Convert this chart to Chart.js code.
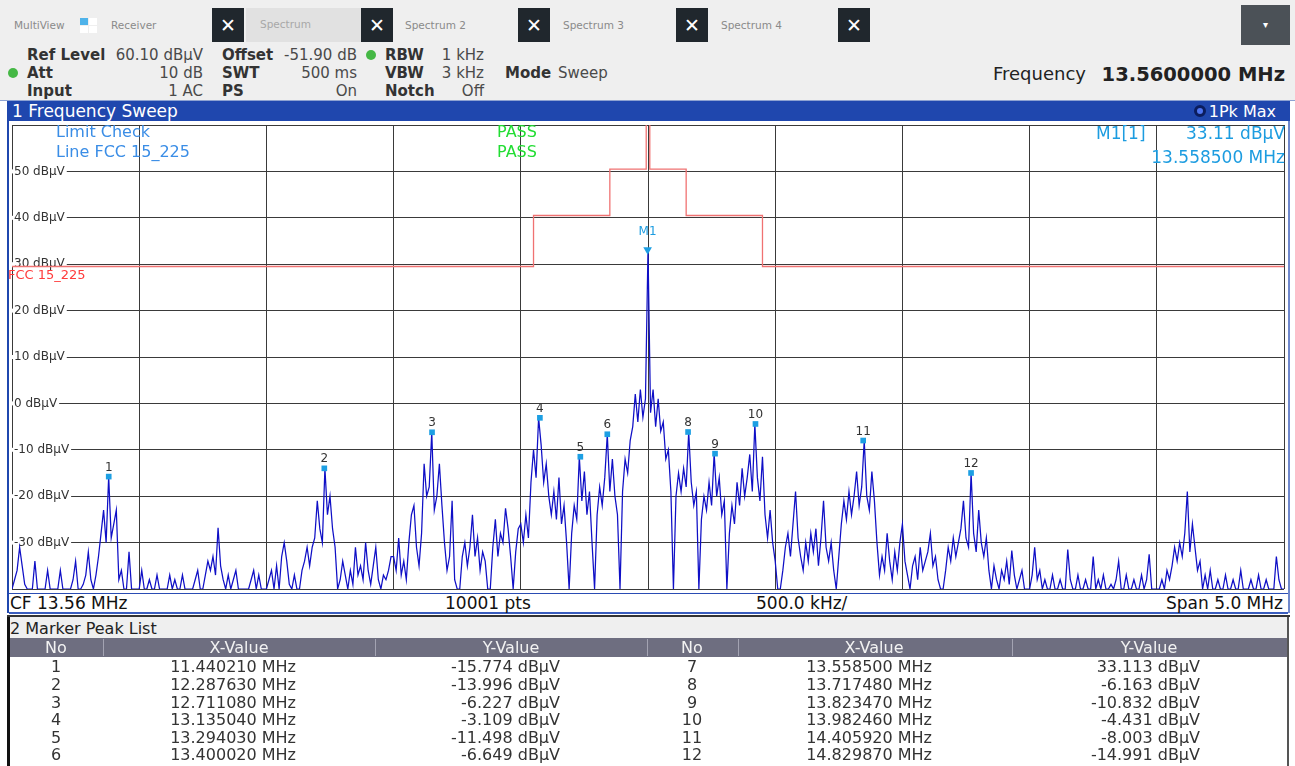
<!DOCTYPE html>
<html lang="en">
<head>
<meta charset="utf-8">
<title>1 Frequency Sweep</title>
<script src="https://cdn.jsdelivr.net/npm/chart.js@4.4.1/dist/chart.umd.min.js"></script>
<style>
  html, body { margin: 0; padding: 0; }
  body { width: 1295px; height: 766px; overflow: hidden; position: relative; background: #fff;
         font-family: "DejaVu Sans", sans-serif; color: #222; }
  .box { position: absolute; }
  .t { position: absolute; white-space: nowrap; }
  #plot { position: absolute; left: 8px; top: 121px; width: 1280px; height: 472px; }
</style>
</head>
<body>
<div id="plot"><canvas id="sweep"></canvas></div>
<script>
// sweep: 11.06 .. 16.06 MHz, one level per 10 kHz (dBuV)
const sweepStartMHz = 11.06;
const sweepStepMHz = 0.01;
const traceLevels = [
  -40,-38,-36,-31,-35,-39,-40,-40,-40,-34,-40,-40,-40,-40,-36,-40,-40,-40,-40,-36,-40,-40,-40,-40,-38,
  -34,-40,-40,-39,-37,-32,-38,-40,-37,-33,-28,-23,-30,-15.774,-29,-26,-23,-38,-36,-40,-40,-32,-40,-40,-40,
  -40,-36,-40,-40,-38,-40,-40,-37,-40,-40,-40,-40,-37,-40,-38,-40,-40,-37,-40,-40,-40,-40,-38,-36,-40,
  -40,-37,-34,-36,-33,-37,-26.8,-35,-38,-40,-37,-40,-38,-36,-40,-40,-40,-40,-40,-38,-36,-40,-37,-40,-40,
  -40,-38,-36,-40,-35,-40,-33,-30,-34,-39,-40,-37,-40,-40,-36,-34,-31,-35,-31,-29,-21,-27,-30,-13.996,-24,
  -20,-27,-31,-40,-38,-34,-37,-40,-36,-39,-31,-37,-35,-38,-30,-36,-39,-35,-31,-38,-40,-37,-38,-36,-33,
  -33,-36,-29,-37,-34,-38,-30,-24,-22,-31,-35,-28,-13,-20,-18,-6.227,-23,-20,-13,-22,-30,-36,-33,-21,-38,
  -40,-40,-33,-30,-35,-31,-24,-33,-29,-36,-32,-34,-40,-40,-31,-25,-33,-28,-30,-22.6,-27,-33,-40,-32,-27,
  -26,-30,-24,-29,-17,-10,-16,-3.109,-9,-17,-13,-20,-24,-19,-25,-16,-26,-22,-30,-40,-28,-22,-25,-11.498,-21,
  -14.7,-24,-19,-30,-40,-24,-18,-22,-16,-6.649,-19,-12,-20,-24,-40,-19,-12,-15,-8,-5,2,-4,3,-3,1,
  33.113,-2,3,-5,1,-6,-4,-12,-10,-19,-40,-20,-15,-19,-14,-18,-6.163,-17,-22,-19,-40,-25,-20,-23,-17,
  -22,-10.832,-20,-16,-24,-21,-40,-28,-22,-26,-17,-22,-14,-20,-16,-11,-19,-4.431,-16,-21,-11.5,-24,-29,-23,-30,
  -34,-40,-40,-36,-31,-28,-33,-26,-19,-29,-33,-36,-30,-34,-28,-32,-27,-35,-29,-21,-31,-34,-30,-36,-40,
  -33,-26,-21,-25,-19,-24,-20,-14.7,-22,-18,-8.003,-20,-23,-14.7,-21,-30,-37,-33,-36,-28,-34,-38,-32,-36,-30,
  -26,-34,-37,-40,-35,-33,-38,-31,-36,-34,-32,-28,-35,-33,-38,-40,-40,-36,-31,-34,-29,-33,-30,-27,-21,
  -29,-31,-14.991,-28,-32,-23,-30,-33,-29,-36,-40,-35,-38,-40,-36,-38,-34,-39,-31.7,-37,-40,-38,-36,-40,-40,
  -40,-37,-31,-38,-36,-40,-38,-40,-40,-37,-40,-40,-38,-40,-40,-31.5,-38,-40,-40,-37,-40,-40,-38,-40,-40,
  -33,-40,-38,-40,-37,-40,-40,-39,-40,-38,-34,-40,-40,-37,-40,-40,-38,-40,-40,-37,-40,-38,-32.5,-40,-40,
  -40,-40,-38,-40,-36,-38,-35,-31,-34,-30,-33,-28,-19,-32,-26,-31,-36,-34,-40,-37,-40,-36,-40,-40,-38,
  -40,-40,-37,-40,-40,-38,-40,-40,-36,-40,-40,-40,-38,-40,-40,-37,-40,-40,-38,-40,-40,-40,-33,-38,-40,
  -40
];
const gridFreqs = [11.06, 11.56, 12.06, 12.56, 13.06, 13.56, 14.06, 14.56, 15.06, 15.56, 16.06];
const levelTicks = [50, 40, 30, 20, 10, 0, -10, -20, -30];

// FCC 15.225 limit line (level holds from each frequency to the next)
const limitFreqs = [11.06, 13.110, 13.410, 13.553, 13.567, 13.710, 14.010, 16.06];
const limitLevels = [29.5, 40.5, 50.5, 84.0, 50.5, 40.5, 29.5, 29.5];

// marker peak list
const markerNo = [1, 2, 3, 4, 5, 6, 7, 8, 9, 10, 11, 12];
const markerFreq = [11.440210, 12.287630, 12.711080, 13.135040, 13.294030, 13.400020,
                    13.558500, 13.717480, 13.823470, 13.982460, 14.405920, 14.829870];
const markerLevel = [-15.774, -13.996, -6.227, -3.109, -11.498, -6.649,
                     33.113, -6.163, -10.832, -4.431, -8.003, -14.991];

function put(text, x, yc, size, color, align, weight) {
  const d = document.createElement('div');
  const lh = Math.round(size * 1.2);
  d.className = 't';
  d.textContent = text;
  d.style.fontSize = size + 'px';
  d.style.lineHeight = lh + 'px';
  d.style.top = (yc - lh / 2) + 'px';
  d.style.color = color || '#222';
  if (weight) d.style.fontWeight = weight;
  if (align === 'right') d.style.right = (1295 - x) + 'px';
  else if (align === 'center') { d.style.left = (x - 200) + 'px'; d.style.width = '400px'; d.style.textAlign = 'center'; }
  else d.style.left = x + 'px';
  document.body.appendChild(d);
  return d;
}
function rect(x, y, w, h, bg, css) {
  const d = document.createElement('div');
  d.className = 'box';
  d.style.cssText = 'left:' + x + 'px;top:' + y + 'px;width:' + w + 'px;height:' + h + 'px;background:' + bg + ';' + (css || '');
  document.body.appendChild(d);
  return d;
}

// ---- top bar + settings ----
rect(0, 0, 1295, 100, '#efefef', 'border-bottom:1px solid #8da2d2;');
put('MultiView', 14, 25, 10.5, '#8a8a8a');
rect(80, 18, 8, 7, '#4fb3ea'); rect(89, 18, 8, 7, '#fff'); rect(80, 26, 8, 7, '#fff'); rect(89, 26, 8, 7, '#fff');
put('Receiver', 111, 25, 10.5, '#8a8a8a');
rect(246, 8, 115, 34, '#e1e1e1');
put('Spectrum', 260, 24, 10.5, '#a8a8a8');
put('Spectrum 2', 405, 25, 10.5, '#8a8a8a');
put('Spectrum 3', 563, 25, 10.5, '#8a8a8a');
put('Spectrum 4', 721, 25, 10.5, '#8a8a8a');
[212, 361, 518, 676, 838].forEach(x => {
  const b = rect(x, 8, 32, 34, '#20272d', 'color:#fff;font-size:19px;font-weight:bold;text-align:center;line-height:34px;');
  b.textContent = '\u2715';
});
const dd = rect(1241, 5, 49, 40, '#4b5157', 'color:#fff;font-size:10px;text-align:center;line-height:40px;');
dd.textContent = '\u25BE';

const lab = '#333', val = '#4a4a4a';
rect(366, 50, 10, 10, '#45b845', 'border-radius:50%;');
rect(8, 68, 10, 10, '#45b845', 'border-radius:50%;');
put('Ref Level', 27, 55, 15, lab, 'left', 'bold');  put('60.10 dB\u00B5V', 203, 55, 15, val, 'right');
put('Att', 27, 73, 15, lab, 'left', 'bold');        put('10 dB', 203, 73, 15, val, 'right');
put('Input', 27, 91, 15, lab, 'left', 'bold');      put('1 AC', 203, 91, 15, val, 'right');
put('Offset', 222, 55, 15, lab, 'left', 'bold');    put('-51.90 dB', 357, 55, 15, val, 'right');
put('SWT', 222, 73, 15, lab, 'left', 'bold');       put('500 ms', 357, 73, 15, val, 'right');
put('PS', 222, 91, 15, lab, 'left', 'bold');        put('On', 357, 91, 15, val, 'right');
put('RBW', 385, 55, 15, lab, 'left', 'bold');       put('1 kHz', 484, 55, 15, val, 'right');
put('VBW', 385, 73, 15, lab, 'left', 'bold');       put('3 kHz', 484, 73, 15, val, 'right');
put('Notch', 385, 91, 15, lab, 'left', 'bold');     put('Off', 484, 91, 15, val, 'right');
put('Mode', 505, 73, 15, lab, 'left', 'bold');      put('Sweep', 558, 73, 15, val);
put('Frequency', 993, 74, 18, '#222');
put('13.5600000 MHz', 1285, 74, 19.5, '#222', 'right', 'bold');

// ---- window frame ----
rect(7, 101, 1283, 20, '#1f47ae');
put('1 Frequency Sweep', 12, 111, 17, '#fff');
rect(1194, 105, 12, 12, '#4d74f0', 'border-radius:50%;box-sizing:border-box;border:3px solid #0b1d5e;');
put('1Pk Max', 1276, 111, 16, '#fff', 'right');
rect(7, 121, 2, 492, '#1f47ae');
rect(1288, 121, 2, 492, '#6f88cc');
rect(9, 593, 1279, 18, '#fff', 'border-top:1px solid #2a4cb3;border-bottom:2px solid #3a5dbe;');
put('CF 13.56 MHz', 10, 603, 17, '#111');
put('10001 pts', 445, 603, 17, '#111');
put('500.0 kHz/', 756, 603, 17, '#111');
put('Span 5.0 MHz', 1283, 603, 17, '#111', 'right');

// ---- texts inside the diagram ----
put('Limit Check', 56, 131, 16, '#3a8de6');
put('Line FCC 15_225', 56, 151, 16, '#3a8de6');
put('PASS', 497, 131, 16, '#22dd33');
put('PASS', 497, 151, 16, '#22dd33');
put('M1[1]', 1096, 133, 17, '#1c9ce0');
put('33.11 dB\u00B5V', 1285, 133, 17, '#1c9ce0', 'right');
put('13.558500 MHz', 1285, 157, 17, '#1c9ce0', 'right');
put('FCC 15_225', 8, 275, 13, '#ff3b3b');

// ---- marker peak list ----
rect(7, 615, 1283, 2, '#333');
rect(9, 617, 1279, 21, '#efefef');
put('2 Marker Peak List', 10, 628, 16, '#222');
rect(7, 617, 3, 149, '#111');
rect(1287, 617, 2, 149, '#555');
rect(10, 638, 1277, 19, '#6e6e80');
[103, 375, 647, 738, 1012].forEach(x => rect(x, 639, 1, 17, '#a3a3b2'));
const cols = [{no: 56, xr: 296, yr: 560, xh: 239, yh: 511}, {no: 692, xr: 932, yr: 1200, xh: 874, yh: 1149}];
cols.forEach(c => {
  put('No', c.no, 647, 16, '#f2f2f2', 'center');
  put('X-Value', c.xh, 647, 16, '#f2f2f2', 'center');
  put('Y-Value', c.yh, 647, 16, '#f2f2f2', 'center');
});
const rowY = [666, 684, 702, 719, 737, 754];
markerNo.forEach((n, i) => {
  const c = cols[i < 6 ? 0 : 1], yc = rowY[i % 6];
  put(String(n), c.no, yc, 16, '#333', 'center');
  put(markerFreq[i].toFixed(6) + ' MHz', c.xr, yc, 16, '#333', 'right');
  put(markerLevel[i].toFixed(3) + ' dB\u00B5V', c.yr, yc, 16, '#333', 'right');
});

// ---- chart ----
const traceData = traceLevels.map((v, i) => ({ x: sweepStartMHz + i * sweepStepMHz, y: v }));
const limitData = limitFreqs.map((f, i) => ({ x: f, y: limitLevels[i] }));
const markerData = markerFreq.map((f, i) => ({ x: f, y: markerLevel[i] }));
const isM1 = i => markerNo[i] === 7;

const overlayPlugin = {
  id: 'overlay',
  beforeDatasetsDraw(chart) {
    const { ctx, chartArea, scales: { y } } = chart;
    ctx.save();
    ctx.font = '12px "DejaVu Sans"';
    ctx.textBaseline = 'middle';
    levelTicks.forEach(v => {
      const py = y.getPixelForValue(v);
      const txt = v + ' dB\u00B5V';
      const w = ctx.measureText(txt).width;
      ctx.fillStyle = '#fff';
      ctx.fillRect(chartArea.left, py - 2, w + 4, 4);
      ctx.fillStyle = '#333';
      ctx.fillText(txt, chartArea.left + 2, py);
    });
    ctx.restore();
  },
  afterDatasetsDraw(chart) {
    const { ctx, scales: { x, y } } = chart;
    ctx.save();
    ctx.textAlign = 'center';
    ctx.textBaseline = 'bottom';
    ctx.font = '12px "DejaVu Sans"';
    markerNo.forEach((n, i) => {
      const px = x.getPixelForValue(markerFreq[i]);
      const py = y.getPixelForValue(markerLevel[i]);
      if (isM1(i)) {
        ctx.fillStyle = '#1c9ce0';
        ctx.fillText('M1', px, py - 12);
      } else {
        ctx.fillStyle = '#333';
        ctx.fillText(String(n), px, py - 3);
      }
    });
    ctx.restore();
  }
};

new Chart(document.getElementById('sweep'), {
  type: 'line',
  data: {
    datasets: [
      { label: 'FCC 15_225', data: limitData, stepped: true, borderColor: '#f07272', borderWidth: 1.3,
        pointRadius: 0, order: 2 },
      { label: '1Pk Max', data: traceData, borderColor: '#0f0fc6', borderWidth: 1.25, pointRadius: 0,
        tension: 0, order: 1 },
      { label: 'Markers', data: markerData, showLine: false, order: 0,
        pointStyle: ctx => isM1(ctx.dataIndex) ? 'triangle' : 'rect',
        pointRotation: ctx => isM1(ctx.dataIndex) ? 180 : 0,
        pointRadius: ctx => isM1(ctx.dataIndex) ? 5 : 4,
        pointBackgroundColor: '#1d9fe3', pointBorderColor: '#1d9fe3', pointBorderWidth: 0 }
    ]
  },
  options: {
    animation: false,
    responsive: true,
    maintainAspectRatio: false,
    layout: { padding: 0 },
    plugins: { legend: { display: false }, tooltip: { enabled: false } },
    scales: {
      x: {
        type: 'linear', min: 11.06, max: 16.06,
        ticks: { display: false },
        grid: { color: '#3a3a3a', drawTicks: false },
        border: { display: false },
        afterBuildTicks: s => { s.ticks = gridFreqs.map(v => ({ value: v })); }
      },
      y: {
        min: -40, max: 60,
        ticks: { display: false, stepSize: 10 },
        grid: { color: '#3a3a3a', drawTicks: false },
        border: { display: false }
      }
    }
  },
  plugins: [overlayPlugin]
});
</script>
</body>
</html>
